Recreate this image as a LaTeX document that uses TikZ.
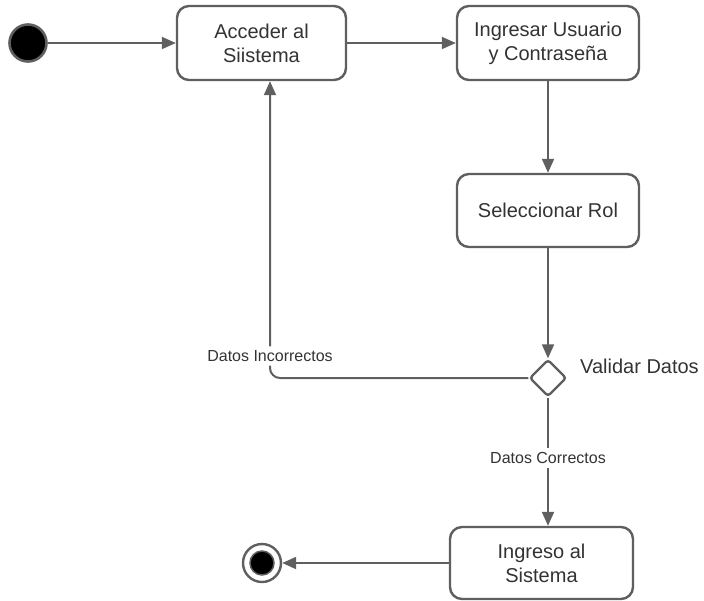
\documentclass[tikz,border=0pt]{standalone}
\usepackage{fontspec}
\setmainfont{Liberation Sans}
\usetikzlibrary{arrows.meta,shapes.geometric}
\definecolor{edge}{HTML}{5F5F5F}
\definecolor{ink}{HTML}{333333}
\begin{document}
\begin{tikzpicture}[x=1pt,y=-1pt,
  activity/.style={draw=edge,line width=2.4pt,rounded corners=12pt,fill=white,
    text=ink,font=\fontsize{20}{24}\selectfont,align=center,inner sep=0pt},
  flow/.style={draw=edge,line width=2pt,-{Triangle[length=14pt,width=12pt]}},
  guard/.style={fill=white,text=ink,font=\fontsize{16}{19}\selectfont,inner sep=4pt},
  decision/.style={diamond,draw=edge,line width=2.4pt,fill=white,
    minimum width=37pt,minimum height=37pt,inner sep=0pt,rounded corners=3pt}]
\useasboundingbox (0,0) rectangle (704,600);

% initial and final states
\node[circle,draw=edge,line width=2.6pt,fill=black,minimum size=37pt,inner sep=0pt] (start) at (28,43) {};
\node[circle,draw=edge,line width=2.4pt,fill=white,minimum size=38pt,inner sep=0pt] (stop) at (262,563) {};
\node[circle,draw=edge,line width=1.5pt,fill=black,minimum size=24pt,inner sep=0pt] (stopdot) at (stop.center) {};

% activities
\node[activity,minimum width=169pt,minimum height=74pt] (acc) at (261.5,43) {Acceder al\\Siistema};
\node[activity,minimum width=182pt,minimum height=74pt] (usr) at (548,43) {Ingresar Usuario\\y Contraseña};
\node[activity,minimum width=182pt,minimum height=73pt] (rol) at (548,210.5) {Seleccionar Rol};
\node[decision] (val) at (548,378) {};
\node[text=ink,font=\fontsize{20}{24}\selectfont,anchor=west,inner sep=0pt] (vallbl) at (580,366) {Validar Datos};
\node[activity,minimum width=183pt,minimum height=72pt] (ing) at (541.5,563) {Ingreso al\\Sistema};

% transitions
\draw[flow] (start) -- (acc);
\draw[flow] (acc) -- (usr);
\draw[flow] (usr) -- (rol);
\draw[flow] (rol) -- (val);
\draw[flow] (val) -- node[guard,pos=0.47] (ok) {Datos Correctos} (ing.north -| val);
\draw[flow,rounded corners=10pt] (val.west) -| node[guard,pos=0.537] (bad) {Datos Incorrectos} ([xshift=8.5pt]acc.south);
\draw[flow] (ing) -- (stop);
\end{tikzpicture}
\end{document}
